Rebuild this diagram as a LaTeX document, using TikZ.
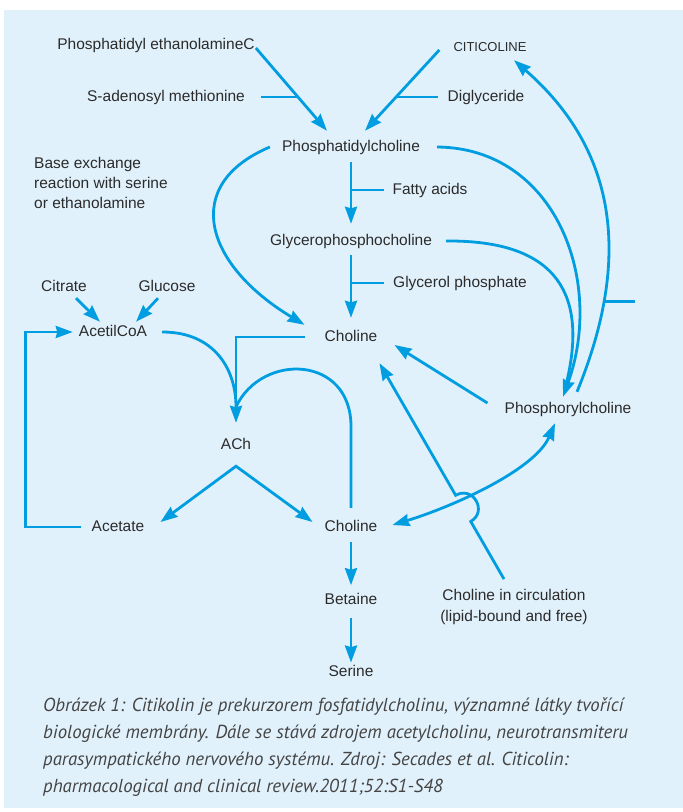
\documentclass[tikz,border=0pt]{standalone}
\usepackage{fontspec}
\setmainfont{Liberation Sans}
\newfontfamily\captionfont{PT Sans}
\usetikzlibrary{positioning,arrows.meta,calc}
\definecolor{bgblue}{HTML}{E1F1FB}
\definecolor{flow}{HTML}{009EE0}
\definecolor{ink}{HTML}{2B2B2B}
\definecolor{capgray}{HTML}{444444}

\begin{document}
\begin{tikzpicture}[
  x=1pt, y=-1pt,
  lbl/.style={font=\fontsize{15.5}{19}\selectfont, text=ink, inner sep=1pt, text height=11pt, text depth=3pt},
  small/.style={lbl, font=\fontsize{13}{16}\selectfont, text height=10pt, text depth=0pt},
  para/.style={font=\fontsize{15.5}{20}\selectfont, text=ink, inner sep=1pt, align=left},
  capt/.style={font=\captionfont\fontsize{18.8}{27}\selectfont\itshape, text=capgray, inner sep=0pt, align=left},
  ln/.style={draw=flow, line width=2.8pt},
  arr/.style={ln, -{Stealth[length=17pt,width=12pt,inset=1.5pt]}},
  dbl/.style={ln, {Stealth[length=17pt,width=12pt,inset=1.5pt]}-{Stealth[length=17pt,width=12pt,inset=1.5pt]}}
]
\useasboundingbox (0,0) rectangle (683,812);
\fill[bgblue] (4,10) rectangle (683,808);

% labels
\node[lbl] (pe) at (156,45) {Phosphatidyl ethanolamineC};
\node[small] (cit) at (490,46) {CITICOLINE};
\node[lbl] (sam) at (166,97) {S-adenosyl methionine};
\node[lbl] (dg) at (486,97) {Diglyceride};
\node[lbl] (pc) at (351,147) {Phosphatidylcholine};
\node[para, anchor=west] (base) at (33,183) {Base exchange\\reaction with serine\\or ethanolamine};
\node[lbl] (fa) at (430,190) {Fatty acids};
\node[lbl] (gpc) at (351,241) {Glycerophosphocholine};
\node[lbl] (gp) at (460,283) {Glycerol phosphate};
\node[lbl] (citr) at (64,287) {Citrate};
\node[lbl] (gluc) at (167,287) {Glucose};
\node[lbl] (acoa) at (113,332) {AcetilCoA};
\node[lbl] (ch1) at (351,337) {Choline};
\node[lbl] (phc) at (568,409) {Phosphorylcholine};
\node[lbl] (ach) at (236,445) {ACh};
\node[lbl] (acet) at (118,527) {Acetate};
\node[lbl] (ch2) at (351,527) {Choline};
\node[lbl, below=57pt of ch2] (bet) {Betaine};
\node[lbl, below=56pt of bet] (ser) {Serine};
\node[para, align=center, font=\fontsize{15.5}{21}\selectfont] (circ) at (514,607) {Choline in circulation\\(lipid-bound and free)};
\node[capt, anchor=north west] (cap) at (43,698) {Obrázek 1: Citikolin je prekurzorem fosfatidylcholinu, významné látky tvořící\\
biologické membrány. Dále se stává zdrojem acetylcholinu, neurotransmiteru\\
parasympatického nervového systému. Zdroj: Secades et al. Citicolin:\\
pharmacological and clinical review.2011;52:S1-S48};

% synthesis of phosphatidylcholine
\draw[arr] ([yshift=-3pt]pe.east) -- coordinate[pos=0.59] (jsam) ([xshift=-24pt,yshift=8pt]pc.north);
\draw[ln] ([xshift=15pt]sam.east) -- (sam.east -| jsam);
\draw[arr] ([xshift=-13pt,yshift=-4pt]cit.west) -- coordinate[pos=0.58] (jdg) ([xshift=14pt,yshift=8pt]pc.north);
\draw[ln] ([xshift=-8pt]dg.west) -- (dg.west -| jdg);

% breakdown column
\draw[arr] ([yshift=-7pt]pc.south) -- ([yshift=9pt]gpc.north);
\draw[ln] ([xshift=-7pt]fa.west) -- (fa.west -| pc.south);
\draw[arr] ([yshift=-6pt]gpc.south) -- ([yshift=11pt]ch1.north);
\draw[ln] ([xshift=-8pt]gp.west) -- (gp.west -| gpc.south);
\draw[arr] ([xshift=-11pt]pc.west) .. controls (180,185) and (205,265) .. ([xshift=-19pt,yshift=4pt]ch1.north west);

% acetylcholine cycle
\draw[arr] ([xshift=12pt,yshift=-3pt]citr.south) -- ([xshift=-13pt,yshift=2pt]acoa.north);
\draw[arr] ([xshift=-9pt,yshift=-3pt]gluc.south) -- ([xshift=23pt,yshift=2pt]acoa.north);
\coordinate[above=30pt of ach.north] (achin);
\draw[arr] ([xshift=-19pt]ch1.west) -| ([yshift=14pt]ach.north);
\draw[ln] ([xshift=14pt]acoa.east) .. controls (215,332) and (236,370) .. (achin);
\draw[ln] ([yshift=11pt]ch2.north) -- ++(0,-80) .. controls (352,355) and (262,352) .. (achin);
\coordinate[below=13pt of ach] (split);
\draw[dbl] ([xshift=15pt,yshift=5pt]acet.east) -- (split) -- ([xshift=-11pt,yshift=5pt]ch2.west);
\draw[arr] ([xshift=-10pt]acet.west) -- ++(-55,0) |- ([xshift=-5pt]acoa.west);
\draw[arr] ([yshift=-7pt]ch2.south) -- ([yshift=7pt]bet.north);
\draw[arr] ([yshift=-9pt]bet.south) -- ([yshift=2pt]ser.north);

% phosphorylcholine
\draw[arr] ([xshift=16pt]pc.east) .. controls (555,148) and (605,280) .. ([xshift=-5pt,yshift=4pt]phc.north);
\draw[ln, shorten >=12pt] ([xshift=13pt]gpc.east) .. controls (560,240) and (588,297) .. ([xshift=-5pt,yshift=4pt]phc.north);
\draw[arr] ([xshift=9pt,yshift=9pt]phc.north) .. controls (632,258) and (617,150) .. coordinate[pos=0.235] (jrt) ([xshift=24pt,yshift=-8pt]cit.south);
\draw[ln] (jrt) -- ++(31,0);
\draw[arr] ([xshift=-16pt,yshift=6pt]phc.west) -- ([xshift=16pt,yshift=-8pt]ch1.east);
\draw[dbl] ([xshift=-13pt,yshift=-6pt]phc.south) .. controls (535,470) and (452,507) .. ([xshift=14pt,yshift=2pt]ch2.east);

% choline in circulation, jumping over the curve
\coordinate (cc0) at ([xshift=-10pt,yshift=9pt]circ.north);
\coordinate (cc1) at ([xshift=1pt,yshift=-18pt]ch1.south east);
\coordinate (ja) at ($(cc0)!0.267!(cc1)$);
\coordinate (jb) at ($(cc0)!0.388!(cc1)$);
\draw[arr] (cc0) -- (ja) .. controls ($(ja)!20pt!90:(cc0)$) and ($(jb)!20pt!-90:(cc1)$) .. (jb) -- (cc1);
\end{tikzpicture}
\end{document}
